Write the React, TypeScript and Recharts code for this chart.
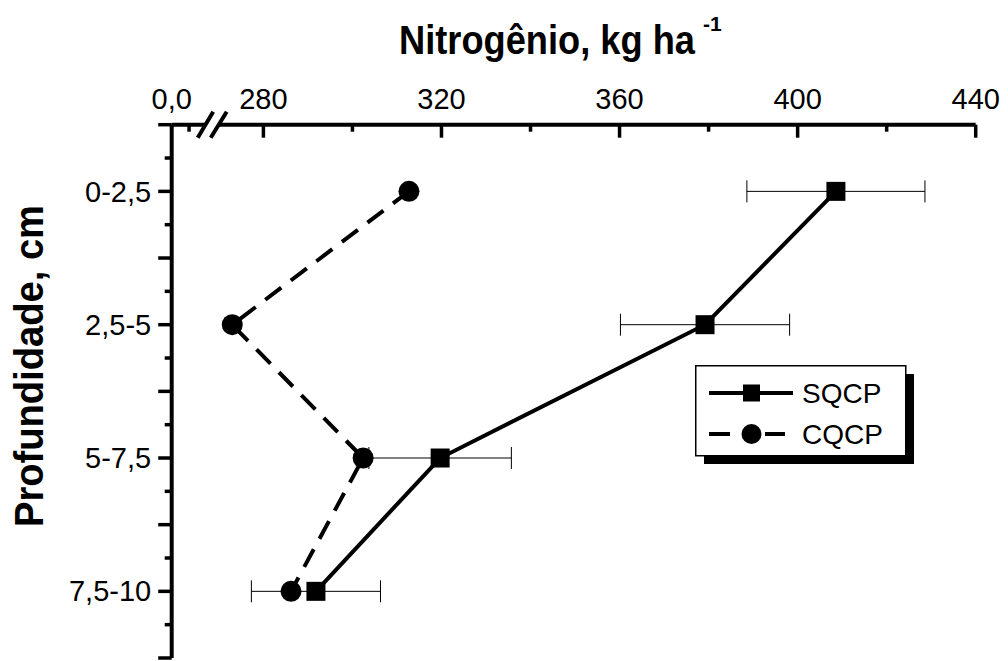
import React from 'react';
import { LineChart, Line, XAxis, YAxis, ErrorBar, Legend } from 'recharts';

// depth classes (top to bottom) and nitrogen stocks, kg/ha
const depths = ['0-2,5', '2,5-5', '5-7,5', '7,5-10'];
const sqcp = [408.6, 379.2, 319.7, 291.8];
const sqcpErr = [20, 19, 16, 14.5];
const cqcp = [312.7, 273.0, 302.4, 286.2];

// broken x axis: the left end is labelled 0,0
const xStart = 259.4;
const xBreak = 268.5;
const xMajor = [280, 320, 360, 400, 440];
const xMinor = [263.3, 300, 340, 380, 420];
const yTicks = [0, 0.25, 0.5, 0.75, 1, 1.25, 1.5, 1.75, 2, 2.25, 2.5, 2.75, 3, 3.25, 3.5, 3.75, 4];

const series = [
  { key: 'sqcp', name: 'SQCP', dash: undefined as string | undefined, marker: 'square' },
  { key: 'cqcp', name: 'CQCP', dash: '20 12', marker: 'circle' },
];

const data = depths.map((d, i) => ({
  depth: d,
  pos: i + 0.5,
  sqcp: sqcp[i],
  err: sqcpErr[i],
  cqcp: cqcp[i],
}));

const FONT = '"Liberation Sans", Arial, Helvetica, sans-serif';

const XTick = (props: any) => {
  const { x, y, payload } = props;
  const v = payload.value;
  if (v === xBreak) {
    return (
      <g>
        <rect x={x - 7} y={y - 3} width={13.5} height={6} fill="#fff" />
        <line x1={x - 14.5} y1={y + 13} x2={x + 1} y2={y - 13} stroke="#000" strokeWidth={4} />
        <line x1={x - 1.5} y1={y + 13} x2={x + 14.5} y2={y - 13} stroke="#000" strokeWidth={4} />
      </g>
    );
  }
  if (v === xStart) {
    return (
      <text x={x} y={y - 16} textAnchor="middle" fontFamily={FONT} fontSize={29} fill="#000">
        0,0
      </text>
    );
  }
  const major = xMajor.includes(v);
  return (
    <g>
      <line x1={x} y1={y} x2={x} y2={y + (major ? 13 : 7)} stroke="#000" strokeWidth={3.5} />
      {major && (
        <text x={x} y={y - 16} textAnchor="middle" fontFamily={FONT} fontSize={29} fill="#000">
          {v}
        </text>
      )}
    </g>
  );
};

const YTick = (props: any) => {
  const { x, y, payload } = props;
  const v = payload.value;
  const long = Number.isInteger(v * 2);
  const idx = v - 0.5;
  const label = Number.isInteger(idx) ? depths[idx] : null;
  return (
    <g>
      <line x1={x - (long ? 13.5 : 7)} y1={y} x2={x} y2={y} stroke="#000" strokeWidth={3.5} />
      {label && (
        <text x={x - 20.5} y={y} dy="0.35em" textAnchor="end" fontFamily={FONT} fontSize={29} fill="#000">
          {label}
        </text>
      )}
    </g>
  );
};

const renderTitle = () => (
  <text x={399} y={54} fontFamily={FONT} fontWeight="bold" fill="#000" fontSize={41}>
    <tspan textLength={296} lengthAdjust="spacingAndGlyphs">
      Nitrogênio, kg ha
    </tspan>
    <tspan x={703} y={31} fontSize={21}>
      -1
    </tspan>
  </text>
);

const renderYLabel = () => (
  <text
    x={0}
    y={0}
    transform="translate(43 366) rotate(-90)"
    textAnchor="middle"
    fontFamily={FONT}
    fontWeight="bold"
    fontSize={40}
    textLength={322}
    lengthAdjust="spacingAndGlyphs"
    fill="#000"
  >
    Profundidade, cm
  </text>
);

const SquareDot = (p: any) => (
  <rect key={`sq-${p.index}`} x={p.cx - 9.5} y={p.cy - 9.5} width={19} height={19} fill="#000" />
);

const CircleDot = (p: any) => <circle key={`ci-${p.index}`} cx={p.cx} cy={p.cy} r={10.5} fill="#000" />;

const renderLegend = () => (
  <svg width={230} height={110} style={{ display: 'block' }}>
    <rect x={9} y={9} width={210} height={90} fill="#000" />
    <rect x={0.75} y={0.75} width={210} height={90} fill="#fff" stroke="#000" strokeWidth={1.5} />
    {series.map((s, i) => {
      const cy = 28 + i * 41;
      return (
        <g key={s.key}>
          {s.dash ? (
            <>
              <line x1={14} y1={cy} x2={35} y2={cy} stroke="#000" strokeWidth={4} />
              <line x1={70} y1={cy} x2={90} y2={cy} stroke="#000" strokeWidth={4} />
            </>
          ) : (
            <line x1={14} y1={cy} x2={98} y2={cy} stroke="#000" strokeWidth={4} />
          )}
          {s.marker === 'square' ? (
            <rect x={48} y={cy - 8.5} width={17} height={17} fill="#000" />
          ) : (
            <circle cx={56.5} cy={cy} r={10} fill="#000" />
          )}
          <text x={107} y={cy} dy="0.35em" fontFamily={FONT} fontSize={28} fill="#000">
            {s.name}
          </text>
        </g>
      );
    })}
  </svg>
);

export default function App() {
  return (
    <div style={{ position: 'absolute', left: 0, top: 0, width: 1008, height: 661, background: '#fff' }}>
      <LineChart
        width={1008}
        height={661}
        data={data}
        layout="vertical"
        margin={{ top: 84.7, right: 32.3, bottom: 3, left: 71.7 }}
      >
        <XAxis
          type="number"
          orientation="top"
          domain={[xStart, 440]}
          allowDataOverflow
          ticks={[xStart, ...xMinor.slice(0, 1), xBreak, ...xMajor, ...xMinor.slice(1)].sort((a, b) => a - b)}
          interval={0}
          height={40}
          tickSize={0}
          tickMargin={0}
          tickLine={false}
          tick={<XTick />}
          axisLine={{ stroke: '#000', strokeWidth: 4 }}
          label={renderTitle}
        />
        <YAxis
          type="number"
          dataKey="pos"
          domain={[0, 4]}
          allowDataOverflow
          ticks={yTicks}
          interval={0}
          width={100}
          tickSize={0}
          tickMargin={0}
          tickLine={false}
          tick={<YTick />}
          axisLine={{ stroke: '#000', strokeWidth: 4 }}
          label={renderYLabel}
        />
        <Legend
          verticalAlign="middle"
          align="center"
          content={renderLegend}
          wrapperStyle={{ left: 695, top: 365, width: 230, height: 110 }}
        />
        <Line
          dataKey="sqcp"
          name="SQCP"
          type="linear"
          stroke="#000"
          strokeWidth={4}
          dot={SquareDot}
          activeDot={false}
          isAnimationActive={false}
        >
          <ErrorBar dataKey="err" direction="x" width={11} stroke="#000" strokeWidth={1} isAnimationActive={false} />
        </Line>
        <Line
          dataKey="cqcp"
          name="CQCP"
          type="linear"
          stroke="#000"
          strokeWidth={4}
          strokeDasharray="20 12"
          dot={CircleDot}
          activeDot={false}
          isAnimationActive={false}
        />
      </LineChart>
    </div>
  );
}
